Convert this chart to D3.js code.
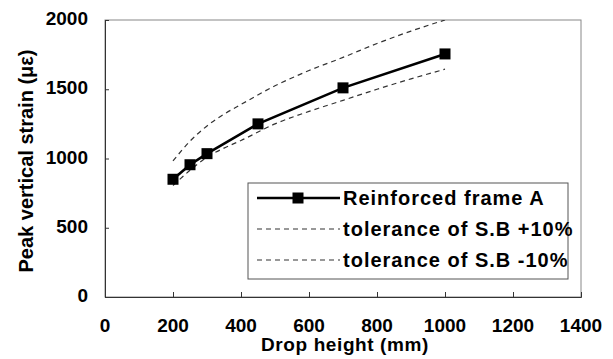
<!DOCTYPE html>
<html>
<head>
<meta charset="utf-8">
<script src="https://cdn.jsdelivr.net/npm/d3@7"></script>
<style>
  body { margin: 0; background: #fff; }
  text { font-family: "Liberation Sans", Arial, sans-serif; font-weight: bold; fill: #000; }
</style>
</head>
<body>
<div id="chart"></div>
<script>
// data
const dropHeights = [200, 250, 300, 450, 700, 1000];
const frameA = [850, 955, 1035, 1250, 1510, 1755];

const tolHeights = [200, 250, 300, 350, 400, 500, 600, 700, 800, 900, 1000];
const tolUpper = [982, 1125, 1235, 1320, 1390, 1525, 1635, 1730, 1830, 1920, 2000];
const tolLower = [805, 915, 1010, 1075, 1130, 1250, 1340, 1420, 1500, 1575, 1645];

const xTicks = [0, 200, 400, 600, 800, 1000, 1200, 1400];
const yTicks = [0, 500, 1000, 1500, 2000];

const legendLabels = ["Reinforced frame A", "tolerance of S.B +10%", "tolerance of S.B -10%"];

const width = 613, height = 359;
const plotL = 105, plotR = 581, plotT = 20, plotB = 297;

const svg = d3.select("#chart")
  .append("svg")
  .attr("width", width)
  .attr("height", height);

const x = d3.scaleLinear().domain([0, 1400]).range([plotL, plotR]);
const y = d3.scaleLinear().domain([0, 2000]).range([plotB, plotT]);

// plot frame
svg.append("rect")
  .attr("x", plotL).attr("y", plotT)
  .attr("width", plotR - plotL).attr("height", plotB - plotT)
  .attr("fill", "none").attr("stroke", "#888").attr("stroke-width", 1);

svg.append("clipPath").attr("id", "clip")
  .append("rect")
  .attr("x", plotL).attr("y", plotT)
  .attr("width", plotR - plotL).attr("height", plotB - plotT);

// axes with inward ticks
const yAxis = svg.append("g")
  .attr("transform", `translate(${plotL},0)`)
  .call(d3.axisRight(y).tickValues(yTicks).tickSize(4).tickFormat(""));
yAxis.select(".domain").attr("stroke", "#333");
yAxis.selectAll(".tick line").attr("stroke", "#333");

const xAxis = svg.append("g")
  .attr("transform", `translate(0,${plotB})`)
  .call(d3.axisTop(x).tickValues(xTicks).tickSize(5).tickFormat(""));
xAxis.select(".domain").attr("stroke", "#333");
xAxis.selectAll(".tick line").attr("stroke", "#333");

// tick labels
svg.selectAll(".ylab")
  .data(yTicks)
  .enter().append("text")
  .attr("class", "ylab")
  .attr("x", 88)
  .attr("y", d => y(d) + 5)
  .attr("text-anchor", "end")
  .style("font-size", "19px")
  .text(d => d);

svg.selectAll(".xlab")
  .data(xTicks)
  .enter().append("text")
  .attr("class", "xlab")
  .attr("x", d => x(d))
  .attr("y", 332)
  .attr("text-anchor", "middle")
  .style("font-size", "19px")
  .text(d => d);

// axis titles
svg.append("text")
  .attr("x", 345).attr("y", 351)
  .attr("text-anchor", "middle")
  .style("font-size", "19px")
  .style("letter-spacing", "0.6px")
  .text("Drop height (mm)");

svg.append("text")
  .attr("transform", "translate(33,161) rotate(-90)")
  .attr("text-anchor", "middle")
  .style("font-size", "20px")
  .text("Peak vertical strain (με)");

// series
const plot = svg.append("g").attr("clip-path", "url(#clip)");
const line = d3.line().x(d => x(d[0])).y(d => y(d[1]));
const curve = d3.line().curve(d3.curveMonotoneX).x(d => x(d[0])).y(d => y(d[1]));

plot.append("path")
  .datum(d3.zip(tolHeights, tolUpper))
  .attr("d", curve)
  .attr("fill", "none").attr("stroke", "#333").attr("stroke-width", 1.2)
  .attr("stroke-dasharray", "5,4");

plot.append("path")
  .datum(d3.zip(tolHeights, tolLower))
  .attr("d", curve)
  .attr("fill", "none").attr("stroke", "#333").attr("stroke-width", 1.2)
  .attr("stroke-dasharray", "5,4");

const frameData = d3.zip(dropHeights, frameA);
svg.append("path")
  .datum(frameData)
  .attr("d", line)
  .attr("fill", "none").attr("stroke", "#000").attr("stroke-width", 2.6);

const ms = 11;
svg.selectAll(".marker")
  .data(frameData)
  .enter().append("rect")
  .attr("class", "marker")
  .attr("x", d => x(d[0]) - ms / 2)
  .attr("y", d => y(d[1]) - ms / 2)
  .attr("width", ms).attr("height", ms)
  .attr("fill", "#000");

// legend
const lg = svg.append("g");
lg.append("rect")
  .attr("x", 248).attr("y", 183)
  .attr("width", 320).attr("height", 96)
  .attr("fill", "#fff").attr("stroke", "#555").attr("stroke-width", 1);

const rowY = [198, 229, 260];
lg.append("line")
  .attr("x1", 257).attr("x2", 340).attr("y1", rowY[0]).attr("y2", rowY[0])
  .attr("stroke", "#000").attr("stroke-width", 2.6);
lg.append("rect")
  .attr("x", 298 - ms / 2).attr("y", rowY[0] - ms / 2)
  .attr("width", ms).attr("height", ms).attr("fill", "#000");
[1, 2].forEach(i => {
  lg.append("line")
    .attr("x1", 257).attr("x2", 340).attr("y1", rowY[i]).attr("y2", rowY[i])
    .attr("stroke", "#333").attr("stroke-width", 1.2)
    .attr("stroke-dasharray", "5,4");
});

lg.selectAll(".ltext")
  .data(legendLabels)
  .enter().append("text")
  .attr("class", "ltext")
  .attr("x", 343)
  .attr("y", (d, i) => rowY[i] + 7)
  .style("font-size", "20px")
  .style("letter-spacing", "1px")
  .text(d => d);
</script>
</body>
</html>
